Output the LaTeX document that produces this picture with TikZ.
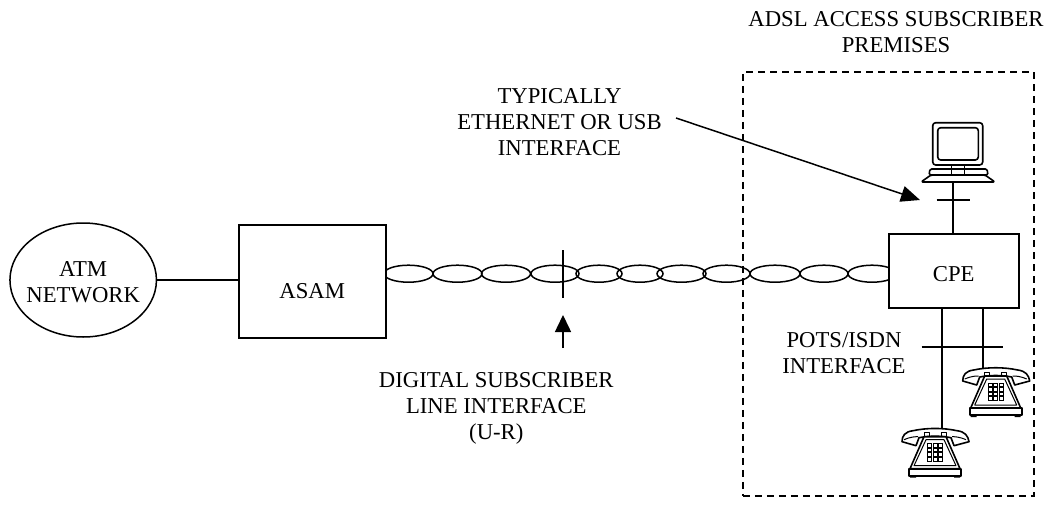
\documentclass[tikz,border=0pt]{standalone}
\usepackage{fontspec}
\setmainfont{Liberation Serif}
\usetikzlibrary{arrows.meta,shapes.geometric}
\tikzset{
  line/.style={draw=black,line width=1.5pt},
  boxnode/.style={line,fill=white,rectangle,inner sep=0pt,anchor=north west,align=center},
  twist/.style={line,ellipse,inner sep=0pt,minimum width=49pt,minimum height=17pt},
  lbl/.style={font=\fontsize{22.7}{26}\selectfont,inner sep=0pt,align=center,text=black},
  arrowline/.style={line,-{Triangle[length=17pt,width=16pt]}},
  icon/.style={draw=black,line width=1.6pt,line join=round},
  thin icon/.style={draw=black,line width=1pt,line join=round},
  pics/phone/.style={code={
    \fill[white] (-34,10) -- (-12,0) -- (12,0) -- (34,10) -- (34,48) -- (-34,48) -- cycle;
    % handset
    \draw[icon] (-33,13) .. controls (-33,7) and (-30,3) .. (-22,2) .. controls (-8,-1) and (8,-1) .. (22,2) .. controls (30,3) and (33,7) .. (34,13)
      -- (19,17) -- (16,9) .. controls (6,7) and (-6,7) .. (-16,9) -- (-19,17) -- cycle;
    \draw[thin icon] (-31,11) .. controls (-24,8) and (-20,8) .. (-17,8);
    \draw[thin icon] (31,11) .. controls (24,8) and (20,8) .. (17,8);
    % cradle posts
    \draw[thin icon] (-11,8) rectangle (-6,4) (6,8) rectangle (11,4);
    % body
    \draw[icon,fill=white] (-11,8) -- (11,8) -- (25,40) -- (-25,40) -- cycle;
    \draw[thin icon] (-9,11) -- (9,11) -- (21,37) -- (-21,37) -- cycle;
    % keypad
    \foreach \i in {-1,0,1} \foreach \j in {0,1,2,3}
      \draw[line width=0.9pt] (\i*5.6-2,15+\j*4.6) rectangle (\i*5.6+2,18.5+\j*4.6);
    % base
    \draw[icon,fill=white] (-26,40) rectangle (26,47);
    \fill (-25,47) rectangle (-19,49) (19,47) rectangle (25,49);
  }},
}
\begin{document}
\begin{tikzpicture}[x=1pt,y=-1pt]
\useasboundingbox (0,0) rectangle (1054,527);
% premises
\node[draw=black,line width=1.6pt,dash pattern=on 7pt off 5pt,rectangle,inner sep=0pt,anchor=north west,minimum width=291pt,minimum height=424pt] (prem) at (742,71) {};
% twisted pair
\foreach \n/\c/\w in {1/408.5/49,2/457.5/49,3/506/49,4/555/48,5/599/46,6/640/46,7/681.5/49,8/726.5/47,9/775/50,10/824/48,11/872/48}
  \node[twist,minimum width=\w pt] (t\n) at (\c,273.7) {};
% main nodes
\node[line,ellipse,minimum width=146.5pt,minimum height=114pt,inner sep=0pt,fill=white,label={[lbl,yshift=-2.5pt]center:ATM\\NETWORK}] (atm) at (83.2,280) {};
\node[boxnode,minimum width=147pt,minimum height=113pt,label={[lbl,yshift=-10pt]center:ASAM}] (asam) at (238,224) {};
\node[boxnode,minimum width=130pt,minimum height=74pt,label={[lbl,yshift=-3pt]center:CPE}] (cpe) at (888,233) {};
\draw[line] (atm.east) -- (asam.west |- atm.east);
% U-R interface
\coordinate (urtop) at (563,250);
\coordinate (urbot) at (563,298);
\draw[line] (urtop) -- (urbot);
\coordinate (urtail) at (563,348);
\coordinate (urtip) at (563,315);
\draw[arrowline] (urtail) -- (urtip);
% ethernet
\coordinate (ethtail) at (676,118);
\coordinate (ethtip) at (920,200);
\draw[arrowline,-{Triangle[length=19pt,width=16pt]}] (ethtail) -- (ethtip);
% computer
\coordinate (pc) at (953,183);
\draw[line] (pc) -- (pc |- cpe.north);
\coordinate (ta) at (936.5,200);
\coordinate (tb) at (970,200);
\draw[line] (ta) -- (tb);
\draw[icon] (932.7,122.7) [rounded corners=3pt] rectangle (982.7,165);
\draw[icon] (937.7,127.7) [rounded corners=3pt] rectangle (978.3,160);
\draw[icon,rounded corners=1.5pt] (929,175) -- (930,169) -- (987,169) -- (988,175) -- cycle;
\draw[icon,rounded corners=1.5pt] (931,175) -- (921,182) -- (995,182) -- (985,175) -- cycle;
\draw[line width=0.7pt] (951,165) -- (951,175) (964,165) -- (964,175);
% phones
\pic at (995.7,368) {phone};
\pic at (935,428.7) {phone};
\coordinate (p1) at (942,428);
\coordinate (p2) at (983,368);
\draw[line] (p1 |- cpe.south) -- (p1);
\draw[line] (p2 |- cpe.south) -- (p2);
\coordinate (tc) at (921.5,347);
\coordinate (td) at (1003,347);
\draw[line] (tc) -- (td);
% labels
\node[lbl] (l1) at (896,32.5) {ADSL ACCESS SUBSCRIBER\\PREMISES};
\node[lbl] (l2) at (559.5,122) {TYPICALLY\\ETHERNET OR USB\\INTERFACE};
\node[lbl] (l3) at (496.3,408) {DIGITAL SUBSCRIBER\\LINE INTERFACE\\(U-R)};
\node[lbl] (l4) at (844,353) {POTS/ISDN\\INTERFACE};
\end{tikzpicture}
\end{document}
